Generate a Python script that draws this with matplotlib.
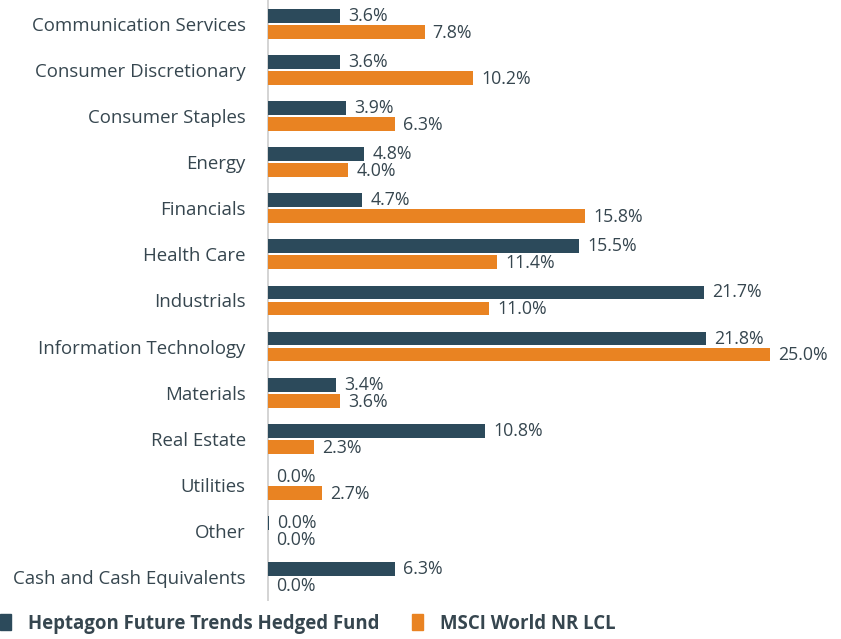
import numpy as np
import matplotlib.pyplot as plt
from matplotlib.patches import Rectangle

plt.rcParams['font.family'] = ['Open Sans', 'DejaVu Sans']

sectors = ['Communication Services', 'Consumer Discretionary', 'Consumer Staples',
           'Energy', 'Financials', 'Health Care', 'Industrials',
           'Information Technology', 'Materials', 'Real Estate', 'Utilities',
           'Other', 'Cash and Cash Equivalents']
fund = [3.6, 3.6, 3.9, 4.8, 4.7, 15.5, 21.7, 21.8, 3.4, 10.8, 0.0, 0.049, 6.3]
index = [7.8, 10.2, 6.3, 4.0, 15.8, 11.4, 11.0, 25.0, 3.6, 2.3, 2.7, 0.0, 0.0]
series_names = ['Heptagon Future Trends Hedged Fund', 'MSCI World NR LCL']

dark = '#2c4a5b'
orange = '#e98322'
text_col = '#36464f'

fig = plt.figure(figsize=(8.41, 6.39), dpi=100)
ax = fig.add_axes([268 / 841, 39 / 639, 1 - 268 / 841, 600 / 639])

y = np.arange(len(sectors))
h = 0.30
off = 0.174
ax.barh(y - off, fund, height=h, color=dark, zorder=2)
ax.barh(y + off, index, height=h, color=orange, zorder=2)

for yi, v in zip(y, fund):
    ax.text(v + 0.4, yi - off, '%.1f%%' % v, va='center', ha='left',
            fontsize=12.8, color=text_col)
for yi, v in zip(y, index):
    ax.text(v + 0.4, yi + off + 0.02, '%.1f%%' % v, va='center', ha='left',
            fontsize=12.8, color=text_col)

ax.set_xlim(0, 28.53)
ax.set_ylim(12.5, -0.52)
ax.set_yticks(y)
ax.set_yticklabels(sectors, fontsize=13.4, color=text_col)
ax.tick_params(axis='y', length=0, pad=16)
ax.set_xticks([])
for s in ['top', 'right', 'bottom']:
    ax.spines[s].set_visible(False)
ax.spines['left'].set_color('#d4d4d4')
ax.spines['left'].set_linewidth(1.4)
ax.spines['left'].set_zorder(1)

# legend along the bottom
leg_x = [0, 412]
for name, col, lx in zip(series_names, [dark, orange], leg_x):
    fig.patches.append(Rectangle((lx / 841, 1 - 630 / 639), 11 / 841, 16 / 639,
                                 transform=fig.transFigure, color=col))
    fig.text((lx + 28) / 841, 1 - 624 / 639, name, fontsize=13.4,
             fontweight='bold', color=text_col, va='center', ha='left')

fig.savefig('out.png', dpi=100)
